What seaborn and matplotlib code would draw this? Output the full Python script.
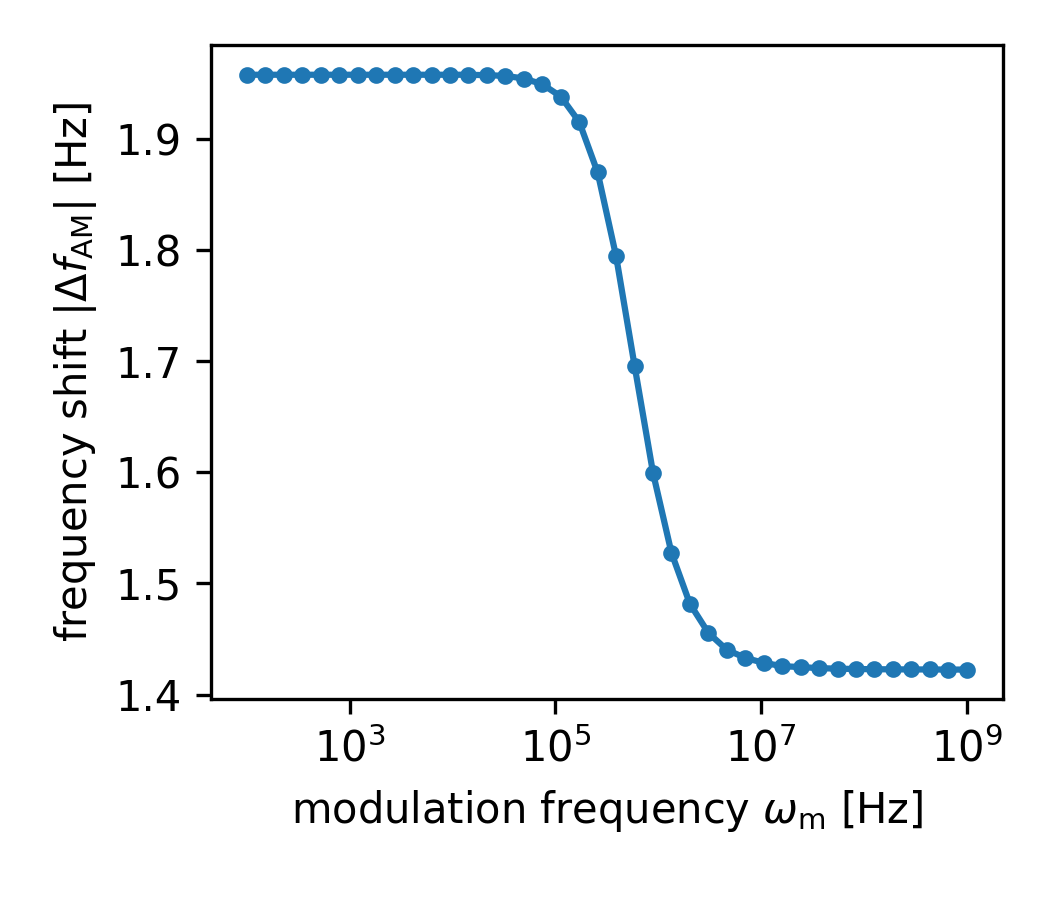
import matplotlib
matplotlib.use("Agg")
import matplotlib.pyplot as plt
import numpy as np
import pandas as pd
import seaborn as sns

# modulation frequencies (Hz), 40 log-spaced samples from 1e2 to 1e9
omega_m = np.logspace(2, 9, 40)

# |Δf_AM| (Hz)
delta_f = [
    1.958, 1.958, 1.958, 1.958, 1.958, 1.958, 1.958, 1.958, 1.958, 1.958,
    1.958, 1.958, 1.958, 1.9576, 1.9570, 1.9546, 1.9495, 1.9384, 1.9156, 1.8700,
    1.7945, 1.6960, 1.5995, 1.5275, 1.4816, 1.4555, 1.4403, 1.4330, 1.4285, 1.4256,
    1.4247, 1.4238, 1.4233, 1.4230, 1.4228, 1.4227, 1.4226, 1.4226, 1.4225, 1.4225,
]

df = pd.DataFrame({"omega": omega_m, "df": delta_f})

fig, ax = plt.subplots(figsize=(3.5, 3), dpi=300)
sns.lineplot(data=df, x="omega", y="df", ax=ax, color="#1f77b4",
             marker=".", markersize=6, markeredgecolor="#1f77b4",
             markeredgewidth=1, linewidth=1.5)
ax.set_xscale("log")
ax.set_xticks([1e3, 1e5, 1e7, 1e9])
ax.set_xlabel(r"modulation frequency $\omega_\mathrm{m}$ [Hz]")
ax.set_ylabel(r"frequency shift $|\Delta f_\mathrm{AM}|$ [Hz]")

fig.subplots_adjust(left=0.201, right=0.955, bottom=0.223, top=0.95)
fig.savefig("out.png", dpi=300)
